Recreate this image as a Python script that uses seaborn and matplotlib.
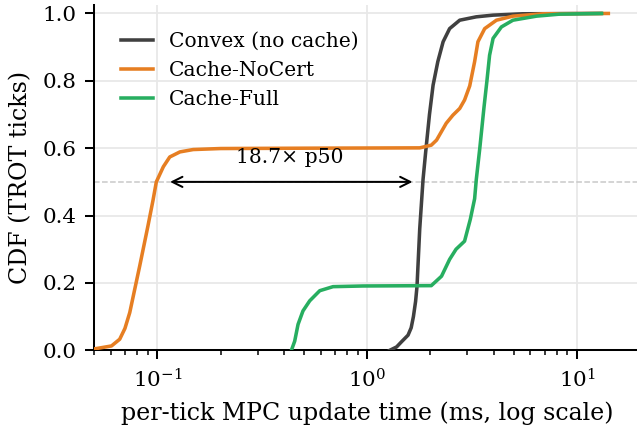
import numpy as np
import pandas as pd
import matplotlib
matplotlib.use("Agg")
import matplotlib.pyplot as plt
import seaborn as sns

# ---- data ----
convex_ms = [1.28, 1.38, 1.455, 1.565, 1.62, 1.66, 1.70, 1.727, 1.779, 1.845, 1.90,
             1.98, 2.06, 2.17, 2.30, 2.47, 2.76, 3.31, 3.98, 5.5, 13.0]
convex_cdf = [0.0, 0.01, 0.025, 0.045, 0.067, 0.10, 0.145, 0.19, 0.36, 0.507, 0.59,
              0.70, 0.787, 0.857, 0.916, 0.955, 0.98, 0.99, 0.995, 0.999, 1.0]

nocert_ms = [0.045, 0.052, 0.0604, 0.0661, 0.0700, 0.0738, 0.0823, 0.0901, 0.0953, 0.0988,
             0.1067, 0.1145, 0.128, 0.148, 0.20, 0.50, 1.78, 2.02, 2.14, 2.38, 2.56,
             2.76, 2.91, 3.08, 3.25, 3.37, 3.63, 4.13, 4.95, 6.88, 14.1]
nocert_cdf = [0.0, 0.006, 0.013, 0.033, 0.065, 0.112, 0.25, 0.369, 0.446, 0.50,
              0.545, 0.574, 0.589, 0.596, 0.599, 0.600, 0.601, 0.609, 0.624, 0.674, 0.698,
              0.718, 0.743, 0.785, 0.857, 0.916, 0.955, 0.98, 0.992, 0.999, 1.0]

full_ms = [0.435, 0.451, 0.468, 0.494, 0.532, 0.594, 0.687, 0.955, 2.02, 2.26, 2.47,
           2.65, 2.91, 3.10, 3.25, 3.31, 3.44, 3.60, 3.72, 3.83, 3.98, 4.36, 4.95,
           6.41, 8.28, 13.1]
full_cdf = [0.0, 0.027, 0.077, 0.117, 0.147, 0.177, 0.189, 0.191, 0.192, 0.22, 0.27,
            0.30, 0.324, 0.389, 0.45, 0.507, 0.60, 0.72, 0.80, 0.876, 0.926, 0.96, 0.98,
            0.992, 0.998, 1.0]

series_names = ["Convex (no cache)", "Cache-NoCert", "Cache-Full"]
series_colors = ["#404040", "#e67e22", "#27ae60"]
speedup_label = "18.7\u00d7 p50"

# ---- styling ----
plt.rcParams["font.family"] = ["DejaVu Serif"]
plt.rcParams["mathtext.fontset"] = "dejavuserif"

frames = []
for name, xs, ys in zip(series_names, [convex_ms, nocert_ms, full_ms],
                        [convex_cdf, nocert_cdf, full_cdf]):
    frames.append(pd.DataFrame({"ms": xs, "cdf": ys, "series": name}))
df = pd.concat(frames, ignore_index=True)

fig = plt.figure(figsize=(3.5, 430 / 182), dpi=182)
ax = fig.add_axes([0.148, 0.1853, 0.857, 0.803])

sns.lineplot(data=df, x="ms", y="cdf", hue="series", hue_order=series_names,
             palette=dict(zip(series_names, series_colors)), estimator=None,
             sort=False, lw=1.4, ax=ax, zorder=3)

ax.set_xscale("log")
ax.set_xlim(0.05, 20)
ax.set_ylim(0, 1.025)
ax.axhline(0.5, color="#c8c8c8", lw=0.6, ls="--", zorder=1)
ax.grid(True, which="major", color="#e8e8e8", lw=0.7, zorder=0)
ax.set_axisbelow(True)
for s in ["top", "right"]:
    ax.spines[s].set_visible(False)
ax.tick_params(labelsize=8.5)

# p50 annotation
p50_nc = float(np.interp(0.5, nocert_cdf, nocert_ms))
p50_cv = float(np.interp(0.5, convex_cdf, convex_ms))
ax.annotate("", xy=(p50_cv / 1.06, 0.5), xytext=(p50_nc * 1.1, 0.5),
            arrowprops=dict(arrowstyle="<->", color="black", lw=0.8), zorder=4)
ax.text(np.sqrt(p50_nc * p50_cv), 0.545, speedup_label,
        ha="center", va="bottom", fontsize=8)

ax.set_xlabel("per-tick MPC update time (ms, log scale)", fontsize=9.4)
ax.set_ylabel("CDF (TROT ticks)", fontsize=9.4)

ax.legend(title=None, frameon=False, fontsize=8, loc="upper left",
          bbox_to_anchor=(0.015, 0.974), handlelength=1.6)

fig.savefig("out.png", dpi=182)
